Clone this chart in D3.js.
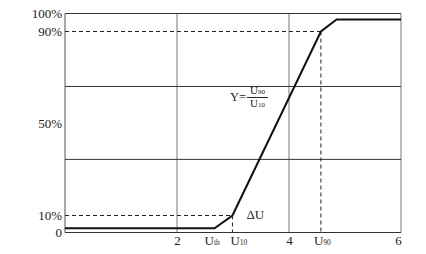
<!DOCTYPE html>
<html>
<head>
<meta charset="utf-8">
<script src="https://cdn.jsdelivr.net/npm/d3@7"></script>
<style>
	body { margin: 0; background: #fff; }
	text { font-family: "Liberation Serif", "Times New Roman", serif; fill: #222; }
</style>
</head>
<body>
<div id="chart"></div>
<script>
// values (x in volts, y in percent)
var xTicks = [2, 4, 6];
var yTickValues = [0, 10, 50, 90, 100];
var yTickLabels = ["0", "10%", "50%", "90%", "100%"];
var ruleValues = [34.4, 66.1, 100];
var curveX = [0, 2.67, 2.99, 4.57, 4.85, 6];
var curveY = [2.5, 2.5, 10, 90, 96.7, 96.7];
var markerSubs = ["th", "10", "90"];
var markerX = [2.67, 2.99, 4.57];
var guideLevels = [10, 90];
var guideX = [2.99, 4.57];

var width = 426, height = 254;

var svg = d3.select('#chart').append('svg')
	.attr('width', width)
	.attr('height', height)

// the y axis is stretched between 10% and 90%
var xScale = d3.scaleLinear()
	.domain([0, 6])
	.range([65, 401])

var yScale = d3.scaleLinear()
	.domain([0, 10, 90, 100])
	.range([232.5, 215.5, 31.5, 13.5])

//vertical grid lines
svg.append('g')
	.selectAll('line')
	.data(xTicks)
	.enter().append('line')
		.attr('x1', d => xScale(d))
		.attr('x2', d => xScale(d))
		.attr('y1', yScale(100))
		.attr('y2', yScale(0))
		.attr('stroke', '#aaa')
		.attr('stroke-width', 1.6)

//left axis line
svg.append('line')
	.attr('x1', xScale(0))
	.attr('x2', xScale(0))
	.attr('y1', yScale(100))
	.attr('y2', yScale(0))
	.attr('stroke', '#aaa')
	.attr('stroke-width', 2)

//horizontal rules and the x axis line
svg.append('g')
	.selectAll('line')
	.data(ruleValues.concat([0]))
	.enter().append('line')
		.attr('x1', xScale(0))
		.attr('x2', xScale(6))
		.attr('y1', d => yScale(d))
		.attr('y2', d => yScale(d))
		.attr('stroke', '#333')
		.attr('stroke-width', 1)

//dashed guides at 10% and 90%
var guides = svg.append('g')
	.attr('stroke', '#222')
	.attr('stroke-width', 1)
	.attr('stroke-dasharray', '4,3')

guideLevels.forEach(function(level, i) {
	guides.append('line')
		.attr('x1', xScale(0))
		.attr('x2', xScale(guideX[i]))
		.attr('y1', yScale(level))
		.attr('y2', yScale(level))
	guides.append('line')
		.attr('x1', xScale(guideX[i]))
		.attr('x2', xScale(guideX[i]))
		.attr('y1', yScale(level))
		.attr('y2', yScale(0))
})

//the response curve
var line = d3.line()
	.x((d, i) => xScale(curveX[i]))
	.y(d => yScale(d))

svg.append('path')
	.datum(curveY)
	.attr('d', line)
	.attr('fill', 'none')
	.attr('stroke', '#111')
	.attr('stroke-width', 2)
	.attr('stroke-linejoin', 'miter')

//axes, only their labels are used
var yAxis = svg.append('g')
	.attr('transform', 'translate(' + xScale(0) + ',0)')
	.call(d3.axisLeft(yScale)
		.tickValues(yTickValues)
		.tickFormat((d, i) => yTickLabels[i])
		.tickSize(0)
		.tickPadding(3)
	)
yAxis.select('.domain').remove()

var xAxis = svg.append('g')
	.attr('transform', 'translate(0,' + yScale(0) + ')')
	.call(d3.axisBottom(xScale)
		.tickValues(xTicks)
		.tickFormat(d3.format('d'))
		.tickSize(0)
		.tickPadding(3)
	)
xAxis.select('.domain').remove()

svg.selectAll('.tick text')
	.attr('fill', '#222')
	.style('font-family', '"Liberation Serif", serif')
	.style('font-size', '13px')
xAxis.selectAll('.tick text').attr('dx', d => d === 6 ? -3 : 0)

//U_th, U_10, U_90 labels under the axis
var labelShift = { th: -10, '10': -2, '90': -7 };
markerSubs.forEach(function(sub, i) {
	var t = svg.append('text')
		.attr('x', xScale(markerX[i]) + labelShift[sub])
		.attr('y', 245)
		.style('font-size', '13px')
	t.append('tspan').text('U')
	t.append('tspan').text(sub).style('font-size', '7.5px')
})

//delta U
svg.append('text')
	.attr('x', xScale(2.99) + 14)
	.attr('y', 219)
	.style('font-size', '13px')
	.text('\u0394U')

//Y = U90 / U10
var fx = 247, fw = 21, fy = 97;
svg.append('text')
	.attr('x', fx - 1)
	.attr('y', fy + 4)
	.attr('text-anchor', 'end')
	.style('font-size', '12.5px')
	.text('Y=')
svg.append('line')
	.attr('x1', fx)
	.attr('x2', fx + fw)
	.attr('y1', fy + 0.5)
	.attr('y2', fy + 0.5)
	.attr('stroke', '#222')
	.attr('stroke-width', 1)
var num = svg.append('text')
	.attr('x', fx + fw / 2)
	.attr('y', fy - 3)
	.attr('text-anchor', 'middle')
	.style('font-size', '11px')
num.append('tspan').text('U')
num.append('tspan').text('90').style('font-size', '7px')
var den = svg.append('text')
	.attr('x', fx + fw / 2)
	.attr('y', fy + 10)
	.attr('text-anchor', 'middle')
	.style('font-size', '11px')
den.append('tspan').text('U')
den.append('tspan').text('10').style('font-size', '7px')
</script>
</body>
</html>
